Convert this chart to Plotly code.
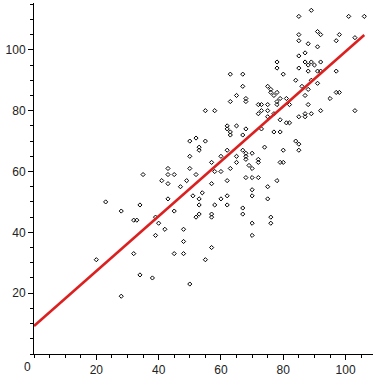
import plotly.graph_objects as go

x_vals = [20, 23, 28, 28, 32, 33, 32, 34, 34, 35, 38, 39, 39, 40,
          53, 62, 50, 60, 57, 43, 50, 63, 43, 45, 52, 58, 60, 41, 49, 62,
          43, 57, 47, 54, 51, 62, 43, 53, 60, 53, 58, 62, 45, 53, 52, 57,
          57, 42, 48, 48, 57, 45, 48, 55, 50,
          63, 63, 55, 58, 62, 62, 63, 63, 52, 50, 55, 53,
          67, 74, 80, 85, 68, 68, 68, 70, 65, 72, 72, 65, 79, 80, 69, 70,
          68, 70, 72, 78, 75, 70, 70, 75, 67, 67, 76, 70, 76, 70,
          67, 78, 78, 80, 84, 67, 75, 76, 76, 78, 65, 77, 68, 68, 79, 81,
          78, 78, 82, 72, 73, 75, 73, 75, 72, 75, 77, 79, 81, 82, 65, 68,
          73, 77, 79, 67, 84, 85, 85, 85, 85, 85, 85, 85,
          89, 101, 106, 91, 92, 98, 88, 97, 103, 91, 87, 87, 89, 92, 88, 90,
          88, 91, 92, 97, 89, 86, 91, 88, 87, 97, 98, 95, 88, 87, 87, 89,
          92, 103]

y_vals = [31, 50, 47, 19, 44, 44, 33, 49, 26, 59, 25, 45, 39, 43,
          67, 67, 65, 65, 63, 61, 61, 61, 59, 59, 59, 60, 60, 57, 57, 57,
          56, 56, 55, 53, 52, 52, 51, 51, 51, 49, 49, 49, 47, 46, 45, 46,
          45, 41, 41, 37, 35, 33, 33, 31, 23,
          92, 83, 80, 80, 75, 74, 73, 72, 71, 70, 70, 68,
          67, 68, 67, 67, 66, 65, 64, 66, 65, 64, 63, 63, 63, 63, 62, 61,
          58, 58, 58, 57, 55, 54, 52, 51, 48, 46, 45, 43, 43, 39,
          92, 96, 94, 92, 90, 88, 88, 87, 86, 86, 85, 85, 84, 83, 84, 84,
          83, 82, 82, 82, 82, 82, 80, 80, 79, 78, 79, 77, 76, 76, 75, 74,
          74, 73, 73, 72, 70, 69, 78, 111, 105, 103, 98, 94,
          113, 111, 111, 106, 105, 105, 102, 103, 104, 101, 99, 96, 96, 96, 95, 95,
          93, 93, 93, 93, 90, 88, 89, 87, 85, 86, 86, 84, 82, 79, 78, 79,
          80, 80]

fit_x = [0, 106]
fit_y = [9.2, 104.9]

x_ticks = [20, 40, 60, 80, 100]
y_ticks = [20, 40, 60, 80, 100]

fig = go.Figure()
fig.add_trace(go.Scatter(
    x=x_vals, y=y_vals, mode="markers",
    marker=dict(symbol="diamond-open", size=3.2, color="black",
                line=dict(width=1, color="black")),
    hoverinfo="skip", showlegend=False))
fig.add_trace(go.Scatter(
    x=fit_x, y=fit_y, mode="lines",
    line=dict(color="#dc2020", width=2.6),
    hoverinfo="skip", showlegend=False))

axis_font = dict(family="Liberation Sans, Arial, sans-serif", size=12, color="#222")
common = dict(showgrid=False, zeroline=False, showline=True, linecolor="black",
              linewidth=1, ticks="outside", ticklen=5, tickcolor="black",
              tickwidth=1, tickfont=axis_font,
              minor=dict(dtick=5, ticks="outside", ticklen=3,
                         tickcolor="black", tickwidth=1, showgrid=False))

fig.update_layout(
    width=380, height=380,
    margin=dict(l=34, r=7, t=3, b=20),
    paper_bgcolor="white", plot_bgcolor="white",
    xaxis=dict(range=[0, 108.8], tickvals=x_ticks, tick0=0, **common),
    yaxis=dict(range=[0, 115.4], tickvals=y_ticks, tick0=0, **common),
    annotations=[dict(x=0.012, y=0.012, xref="paper", yref="paper",
                      text="0", showarrow=False,
                      xanchor="right", yanchor="top", xshift=-5, yshift=-8,
                      font=axis_font)],
)

fig.write_html("out.html")
